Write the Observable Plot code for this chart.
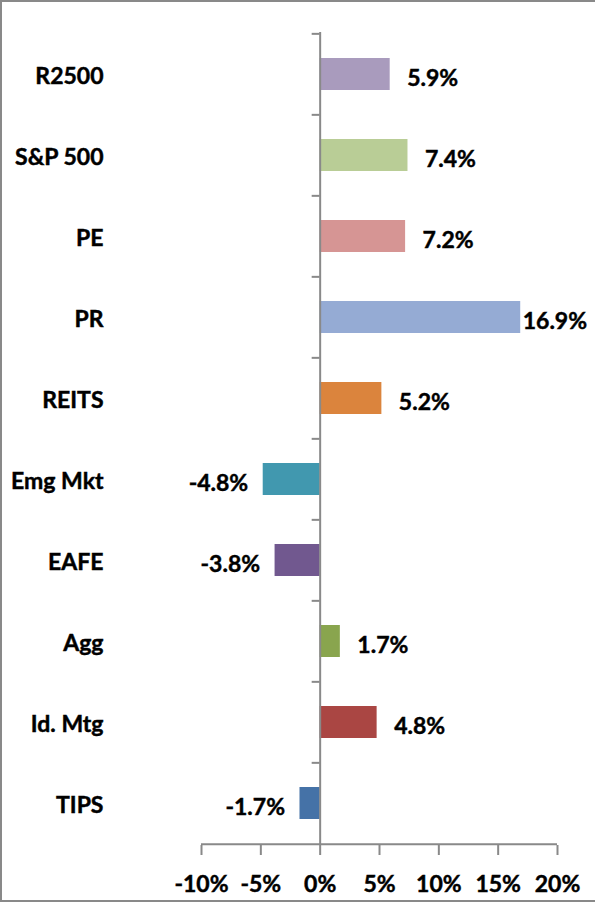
<!DOCTYPE html>
<html><head><meta charset="utf-8">
<script src="https://cdn.jsdelivr.net/npm/d3@7"></script>
<script src="https://cdn.jsdelivr.net/npm/@observablehq/plot@0.6"></script>
<style>
body{margin:0;background:#fff;}
#wrap{position:relative;width:595px;height:902px;}
#chart{position:absolute;left:0;top:0;}
#chart svg text{stroke:#000;stroke-width:0.45px;}
#border{position:absolute;left:0;top:0;width:595px;height:902px;box-sizing:border-box;border-top:2px solid #898989;border-left:2px solid #898989;border-bottom:2px solid #898989;pointer-events:none;}
</style></head><body>
<div id="wrap"><div id="chart"></div><div id="border"></div></div>
<script>
const categories = ["R2500","S&P 500","PE","PR","REITS","Emg Mkt","EAFE","Agg","Id. Mtg","TIPS"];
const values = [5.9,7.4,7.2,16.9,5.2,-4.8,-3.8,1.7,4.8,-1.7];
const colors = ["#A99BBD","#B9CD96","#D69594","#95ABD4","#DB843D","#4198AF","#71588F","#89A54E","#AA4643","#4572A7"];
const xTicks = [-10,-5,0,5,10,15,20];
const tickLabels = ["-10%","-5%","0%","5%","10%","15%","20%"];
const data = categories.map((c,i)=>({category:c, value:values[i], color:colors[i]}));

const W=595,H=902,mT=32,mB=57,mL=201,mR=38;
const step=(H-mT-mB)/categories.length;
const font = "Lato, 'Liberation Sans', sans-serif";
const fmt = v => v.toFixed(1)+"%";
const axisColor = "#898989";

const chart = Plot.plot({
  width:W,height:H,marginTop:mT,marginBottom:mB,marginLeft:mL,marginRight:mR,
  style:{fontFamily:font,fontWeight:"bold",fontSize:"23px",color:"#000",background:"transparent"},
  x:{domain:[xTicks[0],xTicks[xTicks.length-1]]},
  y:{domain:categories,paddingInner:0.6,paddingOuter:0.3},
  marks:[
    Plot.barX(data,{y:"category",x1:0,x2:"value",fill:"color"}),
    Plot.ruleX([0],{stroke:axisColor,strokeWidth:2}),
    Plot.ruleY(categories,{y:d=>d,x1:0,x2:0,insetLeft:-8,dy:-step/2,stroke:axisColor,strokeWidth:2}),
    Plot.ruleY([categories[categories.length-1]],{y:d=>d,x1:xTicks[0],x2:xTicks[xTicks.length-1],dy:step/2,stroke:axisColor,strokeWidth:2}),
    Plot.axisX({ticks:xTicks,tickFormat:d=>tickLabels[xTicks.indexOf(d)],tickSize:10,tickPadding:20,stroke:axisColor,strokeWidth:2,fill:"#000",label:null}),
    Plot.axisY({tickSize:0,tickPadding:98,label:null,dy:2,fill:"#000"}),
    Plot.text(data.filter(d=>d.value>0 && d.value<15),{y:"category",x:"value",text:d=>fmt(d.value),textAnchor:"start",dx:17,dy:4,fill:"#000"}),
    Plot.text(data.filter(d=>d.value>=15),{y:"category",x:"value",text:d=>fmt(d.value),textAnchor:"start",dx:2,dy:4,fill:"#000"}),
    Plot.text(data.filter(d=>d.value<0),{y:"category",x:"value",text:d=>fmt(d.value),textAnchor:"end",dx:-15,dy:4,fill:"#000"})
  ]
});
document.getElementById("chart").appendChild(chart);
</script>
</body></html>
